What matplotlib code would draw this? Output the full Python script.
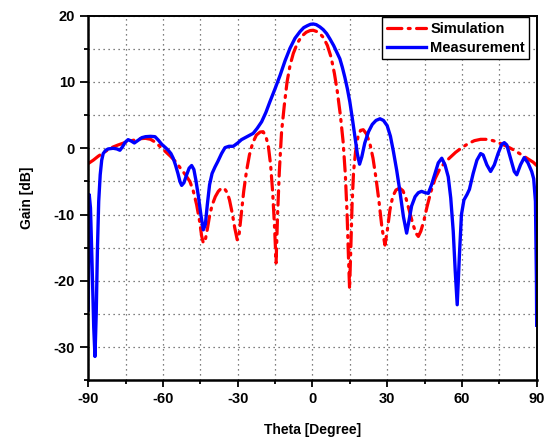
import numpy as np
import matplotlib
matplotlib.use("Agg")
import matplotlib.pyplot as plt
from matplotlib.ticker import MultipleLocator

# values
theta_sim = [-90, -88, -86, -84, -82, -80, -78, -75, -72, -69, -67, -65, -63, -61,
             -59, -57, -55, -53, -51, -49.2, -47.8, -46.5, -45.3, -44.5, -43.8,
             -43, -42.2, -41.3, -40.3, -39, -37.8, -36.5, -35.3, -34.2, -33.3,
             -32.2, -31.2, -30.2, -29.5, -28.6, -27.6, -26.5, -25.3, -24, -22.5,
             -21, -19.8, -18.7, -17.7, -16.8, -16, -15.2, -14.6, -14, -13.3,
             -12.4, -11.3, -10.2, -9, -7.7, -6, -4.3, -2.5, -1, 0.3, 1.8, 3.2,
             4.4, 6, 7.5, 8.8, 10, 11.2, 12.3, 13.2, 13.9, 14.5, 14.9, 15.4, 15.9,
             16.5, 17.3, 18.3, 19.3, 20.4, 21.6, 23, 24.3, 25.5, 26.7, 27.9, 29.1,
             30, 31.1, 32.2, 33.5, 35, 36.3, 37.5, 38.8, 40.2, 41.5, 42.5, 43.5,
             44.8, 46, 47.5, 49.2, 51, 53, 55.2, 57.5, 60, 62.5, 65, 67.5, 70,
             72.5, 75, 78, 81, 84, 86.5, 88.6, 90]
gain_sim = [-2.3, -1.8, -1.2, -0.7, -0.2, 0.2, 0.5, 0.9, 1.2, 1.45, 1.5, 1.35, 0.9,
            0.2, -0.5, -1.2, -2.0, -3.0, -4.0, -5.0, -6.5, -8.5, -11, -13.2, -14.3,
            -13.8, -12.2, -10.2, -8.6, -7.3, -6.5, -6.0, -6.1, -6.7, -7.8,
            -9.8, -12, -13.8, -13.2, -10, -6.5, -3.5, -1.0, 0.8, 2.0,
            2.45, 2.5, 1.8, 0.3, -2.5, -6.5, -12, -17.3, -10, -3.5,
            2.5, 6.5, 10.0, 12.5, 14.3, 15.9, 16.9, 17.5, 17.75, 17.8, 17.6, 17.2,
            16.7, 15.5, 13.7, 11.3, 8.5, 5, 1, -4, -10, -17, -21.2, -15, -8.5,
            -3.5, -0.5, 1.8, 2.7, 2.8, 2.2, 0.8, -1.5, -4.5, -8, -12, -14.6,
            -12.5, -9.3, -7.3, -6.3, -6.0, -6.4, -7.5, -9.3, -11.3, -12.8, -13.3, -12.5,
            -10.8, -8.8, -6.6, -4.6, -3.2, -2.2, -1.4, -0.6, 0.1, 0.7, 1.15, 1.35, 1.35,
            1.15, 0.8, 0.3, -0.3, -1.0, -1.6, -2.1, -2.6]

theta_meas = [-90, -89.6, -89.1, -88.5, -87.8, -87.3, -86.8, -86.3, -85.8, -85.2,
              -84.6, -84, -83, -82, -80, -78.5, -77.3, -76.3, -75.2, -74, -72.8,
              -71.5, -70, -68.5, -67, -65, -63.2, -61.8, -60.5, -59, -57.9, -56.8,
              -55.9, -55, -54, -53.2, -52.5, -51.6, -50.5, -49.5, -48.5, -47.6,
              -46.8, -45.8, -44.8, -43.8, -43, -42.2, -41.3, -40.3, -39.1, -38,
              -36.5, -35.1, -33.5, -31.8, -30, -28.5, -27, -25.5, -23.8, -22.2,
              -20.4, -18.7, -17.1, -15, -13, -11, -9, -7, -5, -3.5, -2, -0.8, 0.3,
              1.5, 3, 4.3, 5.7, 7, 8.5, 10, 11, 12, 13, 14, 15, 16, 17, 18, 18.9,
              19.8, 21, 22.5, 24, 25.5, 27.1, 28.5, 30, 31.3, 32.5, 33.8, 35.1,
              36.5, 37.8, 38.7, 39.8, 41.2, 42.5, 43.8, 45.2, 46.5, 47.8, 49.2,
              50.5, 51.9, 53.2, 54.5, 55.5, 56.5, 57.3, 58.1, 59, 59.8, 60.8, 62,
              63, 64.5, 66, 67.5, 68.5, 70, 71.5, 73, 74.5, 76, 77, 78, 79.5, 81,
              82, 83.5, 85, 86.5, 88, 88.8, 89.5, 89.9, 90]
gain_meas = [-24.4, -7.0, -9, -17, -27, -31.4, -25, -15, -8, -4,
             -1.8, -0.8, -0.3, -0.1, 0, -0.1, -0.3, 0.2, 0.9, 1.3, 1.1,
             0.8, 1.2, 1.6, 1.75, 1.8, 1.75, 1.2, 0.6, 0.1, -0.3, -0.8,
             -1.5, -2.5, -3.8, -5.0, -5.6, -5.2, -4.0, -3.0, -2.6, -3.2,
             -4.8, -7.2, -10, -12.3, -11.5, -8.5, -5.5, -3.8, -2.8, -2.0,
             -0.8, 0.1, 0.3, 0.3, 0.8, 1.3, 1.6, 1.9, 2.25, 3.0,
             4.0, 5.4, 7.0, 9.0, 11.0, 13.2, 15.1, 16.6, 17.6, 18.2, 18.5, 18.7, 18.75,
             18.65, 18.3, 17.9, 17.3, 16.5, 15.5, 14.3, 13.5, 12.2, 10.7, 9.0, 7.0, 4.5, 1.8, -0.8, -2.4,
             -1.3, 0.8, 2.5, 3.6, 4.2, 4.45, 4.2, 3.4, 1.8, -0.5, -3.3, -6.5,
             -10.3, -12.8, -11, -8.7, -7.3, -6.7, -6.5, -6.7, -6.8, -5.5, -3.8,
             -2.2, -1.5, -2.5, -4.3, -7.5, -12.5, -18.5, -23.6, -16, -10, -7.8, -7.0,
             -6.2, -3.8, -1.8, -0.8, -1.0, -2.5, -3.5, -2.5, -0.8, 0.6, 0.85, 0.5, -1.5, -3.5,
             -4.0, -2.5, -1.4, -2.2, -3.5, -4.6, -8, -20, -26.7]

x_ticks = [-90, -60, -30, 0, 30, 60, 90]
y_ticks = [20, 10, 0, -10, -20, -30]

plt.rcParams['font.family'] = ['Liberation Sans', 'DejaVu Sans']
plt.rcParams['font.weight'] = 'bold'
plt.rcParams['axes.unicode_minus'] = False

fig = plt.figure(figsize=(5.55, 4.43), dpi=100)
ax = fig.add_axes([0.159, 0.1415, 0.808, 0.8231])

ax.plot(theta_sim, gain_sim, color='red', lw=2.3, linestyle=(0, (4.5, 2, 0.6, 2)),
        dash_capstyle='round', label='Simulation')
ax.plot(theta_meas, gain_meas, color='#0000ff', lw=2.4, label='Measurement')

ax.set_xlim(-90, 90)
ax.set_ylim(-35, 20)
ax.set_xticks(x_ticks)
ax.set_yticks(y_ticks)
ax.xaxis.set_minor_locator(MultipleLocator(15))
ax.yaxis.set_minor_locator(MultipleLocator(5))
ax.grid(which='both', color='#555555', linestyle=(0, (1, 3)), linewidth=0.9)
ax.tick_params(which='major', direction='out', length=6, width=1.3, labelsize=10.5)
ax.tick_params(which='minor', direction='out', length=3, width=1.3)
ax.tick_params(axis='x', which='major', length=5)
for lbl in ax.get_xticklabels() + ax.get_yticklabels():
    lbl.set_fontweight('bold')

for side in ['left', 'bottom']:
    ax.spines[side].set_linewidth(1.8)
for side in ['top', 'right']:
    ax.spines[side].set_linewidth(1.4)

ax.set_xlabel('Theta [Degree]', fontsize=10, fontweight='bold', labelpad=12)
ax.set_ylabel('Gain [dB]', fontsize=10, fontweight='bold', labelpad=14)

leg = ax.legend(loc='upper right', bbox_to_anchor=(0.9835, 0.9956), borderaxespad=0,
                fancybox=False, framealpha=1, edgecolor='black',
                prop={'weight': 'bold', 'size': 10.5}, handlelength=2.7,
                borderpad=0.3, labelspacing=0.35, handletextpad=0.3)
leg.get_frame().set_linewidth(1.0)

fig.savefig('out.png', dpi=100)
